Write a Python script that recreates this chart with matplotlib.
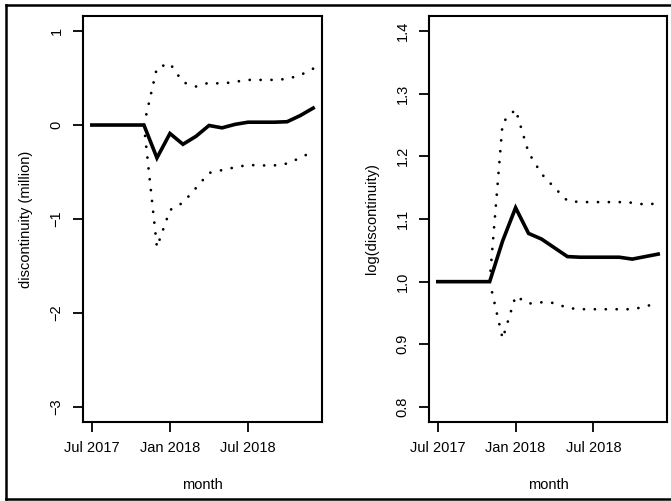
import matplotlib
matplotlib.use("Agg")
import matplotlib.pyplot as plt
from matplotlib.lines import Line2D

plt.rcParams["font.family"] = ["Liberation Sans", "DejaVu Sans"]
plt.rcParams["lines.scale_dashes"] = False

# months Jul 2017 .. Dec 2018
months = list(range(18))
tick_pos = [0, 6, 12]
tick_labels = ["Jul 2017", "Jan 2018", "Jul 2018"]

# left panel: discontinuity (million)
disc = [0, 0, 0, 0, 0, -0.35, -0.09, -0.205, -0.12, -0.005, -0.03, 0.007, 0.03,
        0.03, 0.03, 0.035, 0.10, 0.18]
disc_hi = [0, 0, 0, 0, 0, 0.61, 0.655, 0.455, 0.41, 0.45, 0.44, 0.46, 0.48,
           0.48, 0.48, 0.49, 0.53, 0.60]
disc_lo = [0, 0, 0, 0, 0, -1.30, -0.905, -0.826, -0.67, -0.51, -0.48, -0.45, -0.425,
           -0.43, -0.43, -0.41, -0.35, -0.28]

# right panel: log(discontinuity)
logd = [1, 1, 1, 1, 1, 1.065, 1.118, 1.077, 1.068, 1.054, 1.040, 1.039, 1.039,
        1.039, 1.039, 1.036, 1.040, 1.044]
logd_hi = [1, 1, 1, 1, 1, 1.254, 1.275, 1.206, 1.172, 1.150, 1.129, 1.127, 1.127,
           1.127, 1.127, 1.126, 1.123, 1.125]
logd_lo = [1, 1, 1, 1, 1, 0.909, 0.977, 0.965, 0.967, 0.966, 0.958, 0.956, 0.956,
           0.956, 0.956, 0.956, 0.960, 0.967]

W, H = 671, 501
fig = plt.figure(figsize=(W / 100, H / 100), dpi=100)


def panel(rect, y, hi, lo, ylim, yticks, ylabels, ylabel):
    ax = fig.add_axes(rect)
    ax.plot(months, y, color="black", linewidth=2.6, solid_joinstyle="miter")
    dot = (0, (0.05, 7.8))
    for band in (hi, lo):
        ax.plot(months[4:], band[4:], color="black", linewidth=2.0,
                linestyle=dot, dash_capstyle="round")
    span = months[-1] - months[0]
    ax.set_xlim(months[0] - 0.04 * span, months[-1] + 0.04 * span)
    yspan = ylim[1] - ylim[0]
    ax.set_ylim(ylim[0] - 0.04 * yspan, ylim[1] + 0.04 * yspan)
    ax.set_xticks(tick_pos)
    ax.set_xticklabels(tick_labels, fontsize=10.5)
    ax.set_yticks(yticks)
    ax.set_yticklabels(ylabels, fontsize=10.5, rotation=90, va="center")
    ax.tick_params(length=7, width=1.3, pad=7)
    for s in ax.spines.values():
        s.set_linewidth(1.5)
    ax.set_xlabel("month", fontsize=10.5, labelpad=16)
    ax.set_ylabel(ylabel, fontsize=10.5, labelpad=12)
    return ax


panel([83 / W, 79 / H, 239 / W, 406 / H], disc, disc_hi, disc_lo,
      (-3, 1), [-3, -2, -1, 0, 1], ["\u22123", "\u22122", "\u22121", "0", "1"],
      "discontinuity (million)")
panel([429 / W, 79 / H, 238 / W, 406 / H], logd, logd_hi, logd_lo,
      (0.8, 1.4), [0.8, 0.9, 1.0, 1.1, 1.2, 1.3, 1.4],
      ["0.8", "0.9", "1.0", "1.1", "1.2", "1.3", "1.4"], "log(discontinuity)")

# outer frame
x0, y0, y1 = 5.5 / W, 2 / H, 496 / H
for xs, ys in [([x0, x0], [y0, y1]), ([x0, 1.0], [y1, y1]), ([x0, 1.0], [y0, y0])]:
    fig.add_artist(Line2D(xs, ys, transform=fig.transFigure, color="black", linewidth=1.8))

fig.savefig("out.png", dpi=100)
